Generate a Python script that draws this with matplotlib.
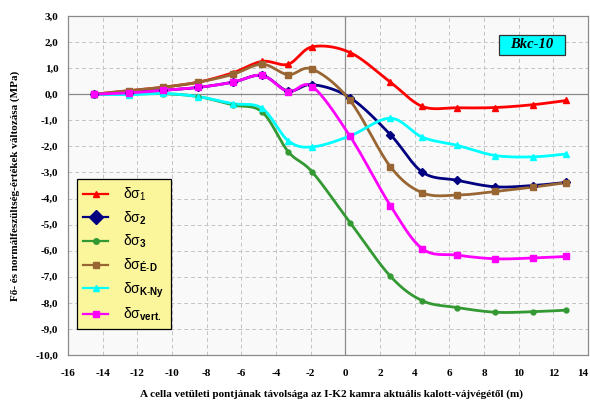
import numpy as np
import matplotlib
matplotlib.use("Agg")
import matplotlib.pyplot as plt
from matplotlib.lines import Line2D
from matplotlib.patches import Rectangle

plt.rcParams['mathtext.fontset'] = 'custom'
plt.rcParams['mathtext.rm'] = 'Liberation Sans'
plt.rcParams['mathtext.it'] = 'Liberation Sans:italic'
plt.rcParams['mathtext.bf'] = 'Liberation Sans:bold'

# distance of the cell from the face (m)
distance = [-14.5, -12.5, -10.5, -8.5, -6.5, -4.8, -3.3, -1.9, 0.27, 2.6,
            4.45, 6.45, 8.65, 10.85, 12.75]

# stress changes (MPa)
sigma1 = [0.0, 0.13, 0.27, 0.46, 0.82, 1.26, 1.15, 1.82, 1.6, 0.46,
          -0.47, -0.52, -0.51, -0.4, -0.24]
sigma2 = [0.0, 0.06, 0.15, 0.26, 0.46, 0.72, 0.12, 0.37, -0.13, -1.55,
          -2.99, -3.3, -3.55, -3.5, -3.38]
sigma3 = [0.0, 0.01, 0.02, -0.09, -0.41, -0.68, -2.2, -2.99, -4.92, -6.98,
          -7.92, -8.18, -8.36, -8.34, -8.28]
sigma_ed = [0.0, 0.14, 0.27, 0.46, 0.76, 1.15, 0.75, 0.96, -0.24, -2.78,
            -3.78, -3.87, -3.73, -3.56, -3.39]
sigma_kny = [0.0, -0.02, 0.03, -0.09, -0.36, -0.54, -1.78, -2.02, -1.6, -0.92,
             -1.65, -1.96, -2.35, -2.4, -2.29]
sigma_vert = [0.0, 0.05, 0.15, 0.26, 0.46, 0.72, 0.1, 0.29, -1.61, -4.27,
              -5.93, -6.17, -6.31, -6.28, -6.22]

series = [
    (sigma1, '#ff0000', '^', 4.0, 'δσ$_{\\mathrm{1}}$'),
    (sigma2, '#000080', 'D', 4.0, 'δσ$_{\\mathbf{2}}$'),
    (sigma3, '#339933', 'o', 3.5, 'δσ$_{\\mathbf{3}}$'),
    (sigma_ed, '#996633', 's', 4.0, 'δσ$_{\\mathbf{É\\text{-}D}}$'),
    (sigma_kny, '#00ffff', '^', 4.0, 'δσ$_{\\mathbf{K\\text{-}Ny}}$'),
    (sigma_vert, '#ff00ff', 's', 4.0, 'δσ$_{\\mathbf{vert.}}$'),
]
legend_marker_sizes = [4.5, 7.5, 4.0, 5.0, 4.5, 5.0]

x_ticks = list(range(-16, 15, 2))
y_ticks = list(range(-10, 4))


def smooth(xs, ys, n=30):
    """Bezier segments through every point, tangents from the neighbours."""
    px = np.asarray(xs, float)
    py = np.asarray(ys, float)
    px_ext = np.concatenate([[px[0]], px, [px[-1]]])
    py_ext = np.concatenate([[py[0]], py, [py[-1]]])
    out_x, out_y = [], []
    t = np.linspace(0, 1, n)
    for i in range(1, len(px_ext) - 2):
        p0 = np.array([px_ext[i], py_ext[i]])
        p3 = np.array([px_ext[i + 1], py_ext[i + 1]])
        c1 = p0 + (np.array([px_ext[i + 1], py_ext[i + 1]]) -
                   np.array([px_ext[i - 1], py_ext[i - 1]])) / 6.0
        c2 = p3 - (np.array([px_ext[i + 2], py_ext[i + 2]]) -
                   np.array([px_ext[i], py_ext[i]])) / 6.0
        b = ((1 - t) ** 3)[:, None] * p0 + (3 * (1 - t) ** 2 * t)[:, None] * c1 \
            + (3 * (1 - t) * t ** 2)[:, None] * c2 + (t ** 3)[:, None] * p3
        out_x.extend(b[:, 0])
        out_y.extend(b[:, 1])
    return np.array(out_x), np.array(out_y)


fig = plt.figure(figsize=(5.9, 4.04), dpi=100, facecolor='white')
ax = fig.add_axes([68 / 590, 1 - 355 / 404, 520 / 590, 339 / 404])
ax.set_facecolor('#f9f9f9')

ax.set_xlim(-16, 14)
ax.set_ylim(-10, 3)
ax.set_xticks(x_ticks)
ax.set_yticks(y_ticks)
ax.set_xticklabels([str(v) for v in x_ticks])
ax.set_yticklabels([f'{v:.1f}'.replace('.', ',') for v in y_ticks])
for lab in ax.get_xticklabels() + ax.get_yticklabels():
    lab.set_fontfamily('Liberation Serif')
    lab.set_fontweight('bold')
    lab.set_fontsize(8)
ax.get_xticklabels()[-1].set_horizontalalignment('right')
ax.tick_params(axis='x', length=0, pad=10)
ax.tick_params(axis='y', length=0, pad=7)

ax.grid(True, color='#c4c4c4', linestyle=(0, (4, 3)), linewidth=0.7)
ax.set_axisbelow(True)
ax.axhline(0, color='#8a8a8a', linewidth=0.9, zorder=1)
ax.axvline(0, color='#8a8a8a', linewidth=0.9, zorder=1)
for s in ax.spines.values():
    s.set_color('#8a8a8a')
    s.set_linewidth(0.9)

for ys, color, marker, ms, label in series:
    sx, sy = smooth(distance, ys)
    ax.plot(sx, sy, color=color, linewidth=2.0, zorder=3, solid_capstyle='round')
    ax.plot(distance, ys, linestyle='none', marker=marker, color=color,
            markersize=ms, zorder=4)

handles = [Line2D([], [], color=c, linewidth=1.6, marker=m, markersize=lms)
           for (_, c, m, _, _), lms in zip(series, legend_marker_sizes)]
labels = [lab for *_, lab in series]
leg = ax.legend(handles, labels, loc='upper left',
                bbox_to_anchor=(0.017, 0.518),
                prop={'family': 'Liberation Sans', 'size': 10},
                handlelength=1.8, handletextpad=1.1, labelspacing=0.45,
                borderpad=0.45, borderaxespad=0, fancybox=False,
                frameon=True, facecolor='#fbf59c', edgecolor='black',
                framealpha=1.0)
leg.get_frame().set_linewidth(0.9)
leg.set_zorder(5)

# site label box
ax.add_patch(Rectangle((0.829, 0.885), 0.127, 0.059, transform=ax.transAxes,
                       facecolor='#00ffff', edgecolor='#333333',
                       linewidth=0.9, zorder=6))
ax.text(0.8925, 0.9145, 'Bkc-10', transform=ax.transAxes, ha='center',
        va='center', fontfamily='Liberation Serif', fontweight='bold',
        fontstyle='italic', fontsize=10.5, zorder=7)

fig.text(0.025, (1 - 355 / 404 + 1 - 16 / 404) / 2,
         'Fő- és normálfeszültség-értékek változása (MPa)',
         rotation=90, ha='center', va='center', fontfamily='Liberation Serif',
         fontweight='bold', fontsize=8)
fig.text(332 / 590, 0.012,
         'A cella vetületi pontjának távolsága az I-K2 kamra aktuális kalott-vájvégétől (m)',
         ha='center', va='bottom', fontfamily='Liberation Serif',
         fontweight='bold', fontsize=8)

fig.savefig('out.png', dpi=100, facecolor='white')
